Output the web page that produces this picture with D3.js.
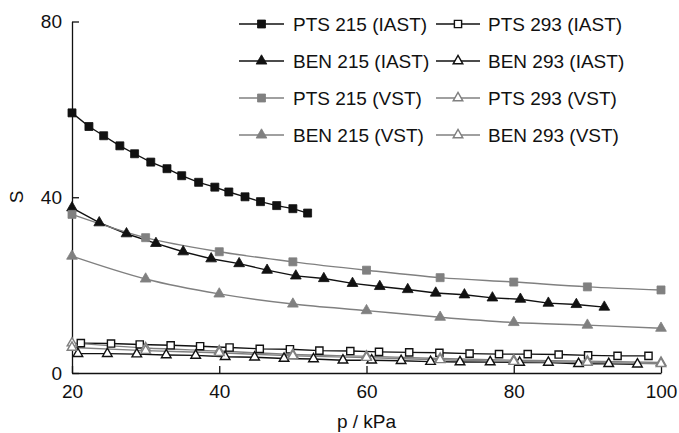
<!DOCTYPE html>
<html>
<head>
<meta charset="utf-8">
<script src="https://cdn.jsdelivr.net/npm/d3@7"></script>
<style>
  html, body { margin: 0; padding: 0; background: #fff; }
  svg { display: block; font-family: "Liberation Sans", Arial, sans-serif; }
</style>
</head>
<body>
<div id="chart"></div>
<script>
// valores
const vstP = [20, 30, 40, 50, 60, 70, 80, 90, 100];

const pts215IastP = [20, 22.3, 24.3, 26.5, 28.5, 30.7, 32.9, 34.9, 37.2, 39.4, 41.3, 43.5, 45.6, 47.8, 50.0, 52.0];
const pts215IastS = [59.2, 56.1, 54.0, 51.7, 49.9, 48.0, 46.5, 44.9, 43.4, 42.3, 41.2, 40.1, 39.0, 38.1, 37.4, 36.4];

const ben215IastP = [20, 23.7, 27.4, 31.4, 35.1, 38.9, 42.7, 46.5, 50.4, 54.2, 58.1, 61.8, 65.6, 69.4, 73.3, 77.1, 80.9, 84.7, 88.5, 92.3];
const ben215IastS = [37.6, 34.2, 31.7, 29.5, 27.6, 26.0, 24.9, 23.4, 22.1, 21.5, 20.4, 19.7, 19.0, 18.2, 17.8, 17.1, 16.8, 15.9, 15.6, 15.0];

const pts215VstS = [36.1, 30.8, 27.6, 25.3, 23.4, 21.7, 20.7, 19.6, 18.9];
const ben215VstS = [26.6, 21.4, 18.0, 15.7, 14.2, 12.7, 11.5, 10.9, 10.2];

const pts293IastP = [21.2, 25.3, 29.2, 33.4, 37.4, 41.4, 45.5, 49.6, 53.6, 57.8, 61.7, 65.8, 69.9, 74.0, 78.0, 81.9, 86.1, 90.1, 94.1, 98.3];
const pts293IastS = [6.8, 6.7, 6.5, 6.3, 6.1, 5.8, 5.5, 5.4, 5.1, 5.0, 4.8, 4.7, 4.6, 4.4, 4.3, 4.3, 4.2, 4.0, 3.9, 3.9];

const ben293IastP = [20.8, 24.8, 28.8, 32.8, 36.8, 40.8, 44.8, 48.8, 52.8, 56.8, 60.7, 64.7, 68.7, 72.7, 76.8, 80.8, 84.7, 88.8, 92.9, 96.8];
const ben293IastS = [4.4, 4.4, 4.3, 4.1, 4.0, 3.7, 3.6, 3.3, 3.2, 2.9, 2.9, 2.8, 2.6, 2.5, 2.5, 2.4, 2.4, 2.1, 2.1, 2.0];

const pts293VstS = [6.8, 5.7, 5.0, 4.2, 3.8, 3.3, 2.9, 2.7, 2.4];
const ben293VstS = [5.8, 5.1, 4.6, 3.9, 3.5, 3.0, 2.6, 2.4, 2.1];

const xTicks = [20, 40, 60, 80, 100];
const yTicks = [0, 40, 80];

const GRAY = "#808080";
const series = [
  { label: "PTS 215 (IAST)", p: pts215IastP, s: pts215IastS, shape: "square", line: "#111", stroke: "#111", fill: "#111", curve: d3.curveLinear },
  { label: "BEN 215 (IAST)", p: ben215IastP, s: ben215IastS, shape: "triangle", line: "#111", stroke: "#111", fill: "#111", curve: d3.curveLinear },
  { label: "PTS 215 (VST)", p: vstP, s: pts215VstS, shape: "square", line: GRAY, stroke: GRAY, fill: GRAY, curve: d3.curveMonotoneX },
  { label: "BEN 215 (VST)", p: vstP, s: ben215VstS, shape: "triangle", line: GRAY, stroke: GRAY, fill: GRAY, curve: d3.curveMonotoneX },
  { label: "PTS 293 (IAST)", p: pts293IastP, s: pts293IastS, shape: "square", line: "#111", stroke: "#111", fill: "#fff", curve: d3.curveLinear },
  { label: "BEN 293 (IAST)", p: ben293IastP, s: ben293IastS, shape: "triangle", line: "#111", stroke: "#111", fill: "#fff", curve: d3.curveLinear },
  { label: "PTS 293 (VST)", p: vstP, s: pts293VstS, shape: "triangle", line: GRAY, stroke: GRAY, fill: "#fff", curve: d3.curveMonotoneX },
  { label: "BEN 293 (VST)", p: vstP, s: ben293VstS, shape: "triangle", line: GRAY, stroke: GRAY, fill: "#fff", curve: d3.curveMonotoneX },
];

const width = 679, height = 433;
const svg = d3.select("#chart").append("svg").attr("width", width).attr("height", height);

const x = d3.scaleLinear().domain([20, 100]).range([72, 661]);
const y = d3.scaleLinear().domain([0, 80]).range([373, 21.5]);

function symbolPath(shape, filled) {
  if (shape === "square") return d3.symbol(d3.symbolSquare, filled ? 64 : 52)();
  return d3.symbol(d3.symbolTriangle, filled ? 50 : 40)();
}

// eixos
const xAxis = svg.append("g").attr("transform", `translate(0,${y(0)})`)
  .call(d3.axisBottom(x).tickValues(xTicks).tickSizeInner(-7).tickSizeOuter(0).tickPadding(12));
const yAxis = svg.append("g").attr("transform", `translate(${x(20)},0)`)
  .call(d3.axisLeft(y).tickValues(yTicks).tickSizeInner(-7).tickSizeOuter(0).tickPadding(10));
[xAxis, yAxis].forEach((g) => {
  g.select(".domain").attr("stroke", "#111").attr("stroke-width", 1.3);
  g.selectAll(".tick line").attr("stroke", "#111").attr("stroke-width", 1.3);
  g.selectAll(".tick text").style("font-size", "19px").attr("fill", "#111");
});

svg.append("text")
  .attr("x", x(60)).attr("y", 428)
  .attr("text-anchor", "middle").style("font-size", "19px").attr("fill", "#111")
  .text("p / kPa");
svg.append("text")
  .attr("transform", `translate(23,197) rotate(-90)`)
  .attr("text-anchor", "middle").style("font-size", "19px").attr("fill", "#111")
  .text("S");

// curvas
const plot = svg.append("g");
series.forEach((d) => {
  const pts = d.p.map((p, i) => [p, d.s[i]]);
  plot.append("path")
    .attr("d", d3.line().x((v) => x(v[0])).y((v) => y(v[1])).curve(d.curve)(pts))
    .attr("fill", "none").attr("stroke", d.line).attr("stroke-width", 1.4);
});
series.forEach((d) => {
  const filled = d.fill !== "#fff";
  plot.selectAll(null)
    .data(d.p.map((p, i) => [p, d.s[i]]))
    .join("path")
    .attr("transform", (v) => `translate(${x(v[0])},${y(v[1])})`)
    .attr("d", symbolPath(d.shape, filled))
    .attr("fill", d.fill).attr("stroke", d.stroke).attr("stroke-width", filled ? 0.8 : 1.4);
});

// legenda
const legendCols = [{ x1: 239, x2: 284, tx: 293 }, { x1: 436, x2: 480, tx: 488 }];
const legendRows = [24, 61, 98, 135];
const legendOrder = [[0, 4], [1, 5], [2, 6], [3, 7]];
legendOrder.forEach((row, r) => {
  row.forEach((si, c) => {
    const d = series[si];
    const col = legendCols[c];
    const ly = legendRows[r];
    const filled = d.fill !== "#fff";
    const g = svg.append("g");
    g.append("line").attr("x1", col.x1).attr("x2", col.x2).attr("y1", ly).attr("y2", ly)
      .attr("stroke", d.line).attr("stroke-width", 1.4);
    g.append("path")
      .attr("transform", `translate(${(col.x1 + col.x2) / 2},${ly})`)
      .attr("d", symbolPath(d.shape, filled))
      .attr("fill", d.fill).attr("stroke", d.stroke).attr("stroke-width", filled ? 0.8 : 1.4);
    g.append("text").attr("x", col.tx).attr("y", ly + 7)
      .style("font-size", "19px").attr("fill", "#111").text(d.label);
  });
});
</script>
</body>
</html>
